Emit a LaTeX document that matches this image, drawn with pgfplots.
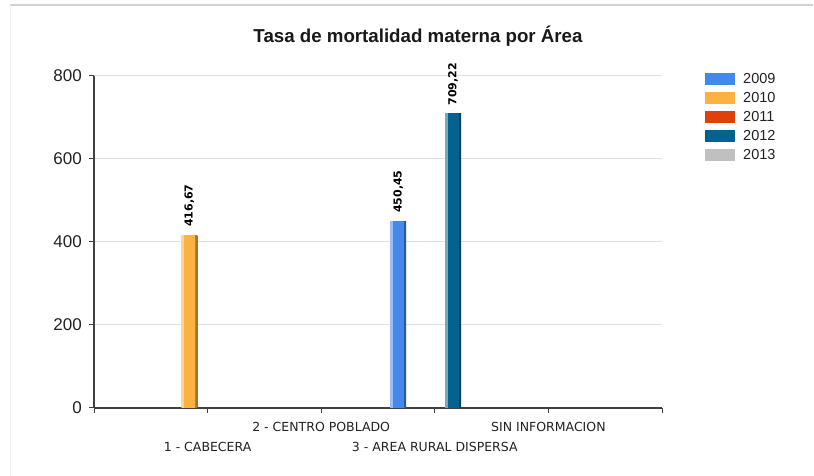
\documentclass[border=0pt]{standalone}
\usepackage{pgfplots}
\pgfplotsset{compat=1.18}
\usepackage{fontspec}
\setmainfont{Liberation Sans}
\newfontfamily\dejavu{DejaVu Sans}
\definecolor{c2009}{HTML}{4489EA}
\definecolor{c2010}{HTML}{FBB241}
\definecolor{c2011}{HTML}{E0400A}
\definecolor{c2012}{HTML}{05628E}
\definecolor{c2013}{HTML}{C0C0C0}
\definecolor{txt}{HTML}{222222}
\colorlet{l2009}{c2009!55!white}\colorlet{d2009}{c2009!65!black}
\colorlet{l2010}{c2010!55!white}\colorlet{d2010}{c2010!65!black}
\colorlet{l2012}{c2012!55!white}\colorlet{d2012}{c2012!65!black}
\pgfdeclarehorizontalshading{sh2009}{100bp}{color(0bp)=(l2009); color(32bp)=(l2009); color(33bp)=(c2009); color(67bp)=(c2009); color(68bp)=(d2009); color(100bp)=(d2009)}
\pgfdeclarehorizontalshading{sh2010}{100bp}{color(0bp)=(l2010); color(32bp)=(l2010); color(33bp)=(c2010); color(67bp)=(c2010); color(68bp)=(d2010); color(100bp)=(d2010)}
\pgfdeclarehorizontalshading{sh2012}{100bp}{color(0bp)=(l2012); color(32bp)=(l2012); color(33bp)=(c2012); color(67bp)=(c2012); color(68bp)=(d2012); color(100bp)=(d2012)}
\begin{document}
\begin{tikzpicture}
\path[use as bounding box, fill=white] (0,0) rectangle (814pt,476pt);
\draw[draw=black!18, line width=1.5pt] (10pt,471pt) -- (813pt,471pt);
\draw[draw=black!6, line width=1pt] (10pt,471pt) -- (10pt,0pt);
\node[font=\fontsize{18.7}{22}\selectfont\bfseries, text=black!90] at (418pt,440pt) {Tasa de mortalidad materna por Área};
\begin{axis}[
  at={(94pt,68pt)}, anchor=south west,
  scale only axis, width=568pt, height=332pt,
  xmin=0, xmax=5, ymin=0, ymax=800,
  axis lines=left,
  axis line style={-, draw=black!75, line width=1.3pt},
  tick align=outside, major tick length=5pt,
  tick style={draw=black!75, line width=1pt},
  xtick={0,1,2,3,4,5},
  xticklabels={{},{\vphantom{2}\\1 - CABECERA},{2 - CENTRO POBLADO\\\vphantom{3}},{\vphantom{2}\\3 - AREA RURAL DISPERSA},{SIN INFORMACION\\\vphantom{3}},{}},
  xticklabel style={font=\dejavu\fontsize{12.5}{20}\selectfont, text=txt, align=center, anchor=north, inner sep=0pt, yshift=-9pt},
  ytick={0,200,400,600,800},
  yticklabel style={font=\fontsize{17}{20}\selectfont, text=txt, anchor=east, inner sep=0pt, xshift=-7pt},
  /pgf/number format/assume math mode=true,
  ymajorgrids, grid style={draw=black!13, line width=1pt},
  point meta=explicit symbolic,
  nodes near coords={\rotatebox{90}{\pgfplotspointmeta}},
  every node near coord/.append style={font=\dejavu\bfseries\fontsize{11}{12}\selectfont, text=black, anchor=south, inner sep=0pt, yshift=8pt},
  legend image code/.code={\fill[#1,draw=none] (0pt,-6pt) rectangle (30pt,6pt);},
  legend style={at={(1.0757,1.009)}, anchor=north west, draw=none, fill=none, inner sep=0pt,
    font=\fontsize{14.5}{16}\selectfont, text=txt, row sep=7pt, column sep=8pt,
    nodes={inner sep=0pt}},
  legend cell align=left,
]
\addplot[ybar, bar width=16pt, bar shift=-36.6pt, draw=none, shading=sh2009, forget plot,
  every node near coord/.append style={xshift=-36.6pt}]
  coordinates {(3,450.45) [450,45]};
\addplot[ybar, bar width=16pt, bar shift=-18.3pt, draw=none, shading=sh2010, forget plot,
  every node near coord/.append style={xshift=-18.3pt}]
  coordinates {(1,416.67) [416,67]};
\addplot[ybar, bar width=16pt, bar shift=18.3pt, draw=none, shading=sh2012, forget plot,
  every node near coord/.append style={xshift=18.3pt}]
  coordinates {(3,709.22) [709,22]};
\addlegendimage{fill=c2009}\addlegendentry{2009}
\addlegendimage{fill=c2010}\addlegendentry{2010}
\addlegendimage{fill=c2011}\addlegendentry{2011}
\addlegendimage{fill=c2012}\addlegendentry{2012}
\addlegendimage{fill=c2013}\addlegendentry{2013}
\end{axis}
\end{tikzpicture}
\end{document}
